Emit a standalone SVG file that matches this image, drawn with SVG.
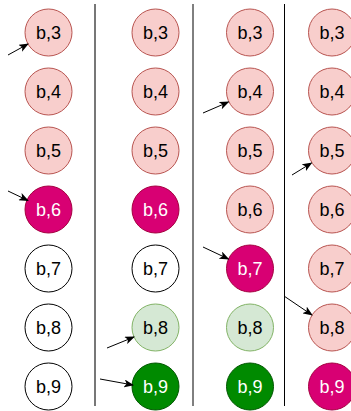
<svg xmlns="http://www.w3.org/2000/svg" width="351" height="411" viewBox="0 0 351 411">
<style>
text{font-family:"Liberation Sans",Arial,sans-serif;font-size:18px;text-anchor:middle;dominant-baseline:central}
.p{fill:#f8cecc;stroke:#b85450}
.m{fill:#d80073;stroke:#a50040}
.lg{fill:#d5e8d4;stroke:#82b366}
.g{fill:#008a00;stroke:#005700}
.w{fill:#ffffff;stroke:#000000}
.wt{fill:#ffffff}
.bt{fill:#000000}
.sep{stroke:#000;stroke-width:1}
.a{stroke:#000;stroke-width:1;fill:none;marker-end:url(#ah)}
</style>
<defs>
<marker id="ah" markerWidth="10" markerHeight="8" refX="9" refY="4" orient="auto" markerUnits="userSpaceOnUse">
<path d="M0,0 L10,4 L0,8 L2.5,4 Z" fill="#000"/>
</marker>
</defs>
<g id="separators">
<line x1="95" y1="4" x2="95" y2="406" style="stroke:#777;stroke-width:2"/>
<line class="sep" x1="193" y1="4" x2="193" y2="406"/>
<line class="sep" x1="284.5" y1="4" x2="284.5" y2="406"/>
</g>
<g id="c1_3"><circle class="p" cx="48.5" cy="32.5" r="23.5"/><text class="bt" x="48.5" y="32.5">b,3</text></g>
<g id="c1_4"><circle class="p" cx="48.5" cy="91.5" r="23.5"/><text class="bt" x="48.5" y="91.5">b,4</text></g>
<g id="c1_5"><circle class="p" cx="48.5" cy="150.5" r="23.5"/><text class="bt" x="48.5" y="150.5">b,5</text></g>
<g id="c1_6"><circle class="m" cx="48.5" cy="209.5" r="23.5"/><text class="wt" x="48.5" y="209.5">b,6</text></g>
<g id="c1_7"><circle class="w" cx="48.5" cy="268.5" r="23.5"/><text class="bt" x="48.5" y="268.5">b,7</text></g>
<g id="c1_8"><circle class="w" cx="48.5" cy="327.5" r="23.5"/><text class="bt" x="48.5" y="327.5">b,8</text></g>
<g id="c1_9"><circle class="w" cx="48.5" cy="386.5" r="23.5"/><text class="bt" x="48.5" y="386.5">b,9</text></g>

<g id="c2_3"><circle class="p" cx="155.5" cy="32.5" r="23.5"/><text class="bt" x="155.5" y="32.5">b,3</text></g>
<g id="c2_4"><circle class="p" cx="155.5" cy="91.5" r="23.5"/><text class="bt" x="155.5" y="91.5">b,4</text></g>
<g id="c2_5"><circle class="p" cx="155.5" cy="150.5" r="23.5"/><text class="bt" x="155.5" y="150.5">b,5</text></g>
<g id="c2_6"><circle class="m" cx="155.5" cy="209.5" r="23.5"/><text class="wt" x="155.5" y="209.5">b,6</text></g>
<g id="c2_7"><circle class="w" cx="155.5" cy="268.5" r="23.5"/><text class="bt" x="155.5" y="268.5">b,7</text></g>
<g id="c2_8"><circle class="lg" cx="155.5" cy="327.5" r="23.5"/><text class="bt" x="155.5" y="327.5">b,8</text></g>
<g id="c2_9"><circle class="g" cx="155.5" cy="386.5" r="23.5"/><text class="wt" x="155.5" y="386.5">b,9</text></g>

<g id="c3_3"><circle class="p" cx="250" cy="32.5" r="23.5"/><text class="bt" x="250" y="32.5">b,3</text></g>
<g id="c3_4"><circle class="p" cx="250" cy="91.5" r="23.5"/><text class="bt" x="250" y="91.5">b,4</text></g>
<g id="c3_5"><circle class="p" cx="250" cy="150.5" r="23.5"/><text class="bt" x="250" y="150.5">b,5</text></g>
<g id="c3_6"><circle class="p" cx="250" cy="209.5" r="23.5"/><text class="bt" x="250" y="209.5">b,6</text></g>
<g id="c3_7"><circle class="m" cx="250" cy="268.5" r="23.5"/><text class="wt" x="250" y="268.5">b,7</text></g>
<g id="c3_8"><circle class="lg" cx="250" cy="327.5" r="23.5"/><text class="bt" x="250" y="327.5">b,8</text></g>
<g id="c3_9"><circle class="g" cx="250" cy="386.5" r="23.5"/><text class="wt" x="250" y="386.5">b,9</text></g>

<g id="c4_3"><circle class="p" cx="332" cy="32.5" r="23.5"/><text class="bt" x="332" y="32.5">b,3</text></g>
<g id="c4_4"><circle class="p" cx="332" cy="91.5" r="23.5"/><text class="bt" x="332" y="91.5">b,4</text></g>
<g id="c4_5"><circle class="p" cx="332" cy="150.5" r="23.5"/><text class="bt" x="332" y="150.5">b,5</text></g>
<g id="c4_6"><circle class="p" cx="332" cy="209.5" r="23.5"/><text class="bt" x="332" y="209.5">b,6</text></g>
<g id="c4_7"><circle class="p" cx="332" cy="268.5" r="23.5"/><text class="bt" x="332" y="268.5">b,7</text></g>
<g id="c4_8"><circle class="p" cx="332" cy="327.5" r="23.5"/><text class="bt" x="332" y="327.5">b,8</text></g>
<g id="c4_9"><circle class="m" cx="332" cy="386.5" r="23.5"/><text class="wt" x="332" y="386.5">b,9</text></g>

<g id="connectors">
<line class="a" x1="8" y1="55" x2="28" y2="44"/>
<line class="a" x1="8" y1="191" x2="28" y2="200.5"/>
<line class="a" x1="107" y1="348" x2="134" y2="337"/>
<line class="a" x1="100" y1="379" x2="133" y2="385"/>
<line class="a" x1="203" y1="113" x2="228.5" y2="102"/>
<line class="a" x1="203" y1="247" x2="228.5" y2="259"/>
<line class="a" x1="292" y1="175" x2="311.5" y2="163"/>
<line class="a" x1="284" y1="296" x2="312" y2="315"/>
</g>
</svg>
